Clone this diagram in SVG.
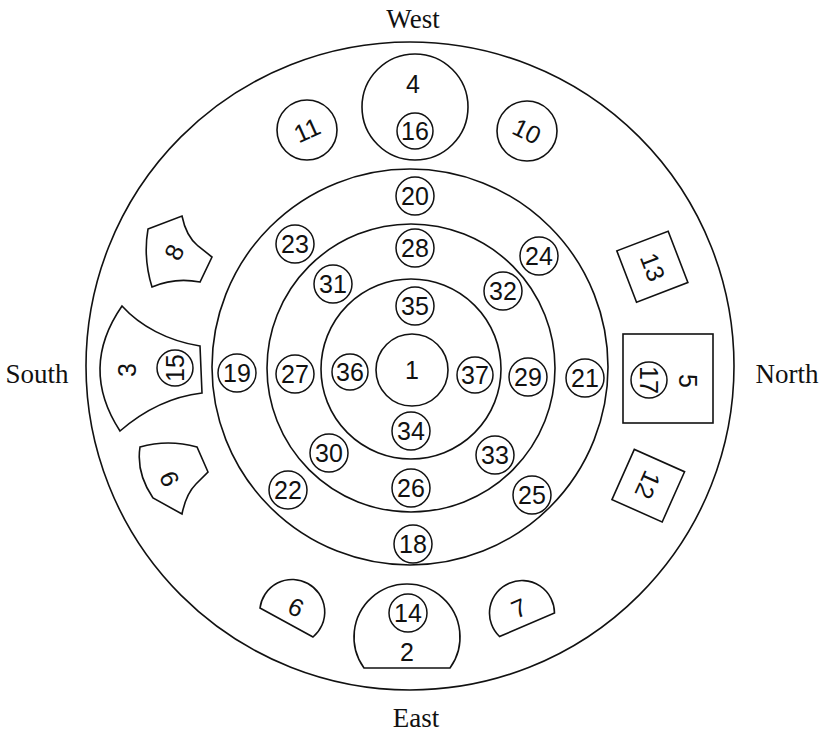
<svg xmlns="http://www.w3.org/2000/svg" width="821" height="732" viewBox="0 0 821 732">
<style>
.ln{fill:none;stroke:#111;stroke-width:1.6}
.sh{fill:#fff;stroke:#111;stroke-width:1.6}
.sm{fill:#fff;stroke:#111;stroke-width:1.5}
.num{font-family:"Liberation Sans",Arial,sans-serif;font-size:25px;fill:#111;text-anchor:middle;dominant-baseline:central}
.lab{font-family:"Liberation Serif","Times New Roman",serif;font-size:27px;fill:#111;text-anchor:middle}
</style>
<rect width="821" height="732" fill="#fff"/>
<g id="labels">
<text class="lab" x="413" y="28">West</text>
<text class="lab" x="416" y="727">East</text>
<text class="lab" x="37" y="383">South</text>
<text class="lab" x="787" y="383">North</text>
</g>
<g id="rings">
<circle class="ln" cx="410" cy="366" r="324" stroke-width="2"/>
<circle class="ln" cx="410" cy="367" r="198"/>
<circle class="ln" cx="411" cy="368" r="144"/>
<circle class="ln" cx="411" cy="369" r="90"/>
</g>
<g id="connectors"/>
<g id="n1"><circle class="sh" cx="412" cy="370" r="36"/><text class="num" x="412" y="370">1</text></g>
<g id="n2"><path class="sh" d="M364,668 A53,53 0 1,1 450,668 Z"/><text class="num" x="407" y="652">2</text></g>
<g id="n14"><circle class="sm" cx="408" cy="613" r="19"/><text class="num" x="408" y="613">14</text></g>
<g id="n3"><path class="sh" d="M122,306 C140,326 168,341 200,346 L202,393 C168,397 142,412 120,431 Q79,368 122,306 Z"/><text class="num" x="127" y="370" transform="rotate(-90 127 370)">3</text></g>
<g id="n15"><circle class="sm" cx="175" cy="368" r="18"/><text class="num" x="175" y="368" transform="rotate(-90 175 368)">15</text></g>
<g id="n4"><circle class="sh" cx="415" cy="107" r="53"/><text class="num" x="413" y="84">4</text></g>
<g id="n16"><circle class="sm" cx="415" cy="131" r="18"/><text class="num" x="415" y="131">16</text></g>
<g id="n5"><rect class="sh" x="623" y="334" width="90" height="89"/><text class="num" x="688" y="381" transform="rotate(90 688 381)">5</text></g>
<g id="n17"><circle class="sm" cx="649" cy="380" r="18"/><text class="num" x="649" y="380" transform="rotate(90 649 380)">17</text></g>
<g id="n6"><path class="sh" d="M260,608 A32.5,32.5 0 1,1 313,637 Z"/><text class="num" x="296" y="607" transform="rotate(25 296 607)">6</text></g>
<g id="n7"><path class="sh" d="M499.5,636.5 A32.5,32.5 0 1,1 554.5,613 Z"/><text class="num" x="519" y="608" transform="rotate(-24 519 608)">7</text></g>
<g id="n8"><path class="sh" d="M148,229 L182,216 Q186,236 198,246 L212,257 L200,282 Q175,277 152,287 Q143,258 148,229 Z"/><text class="num" x="174" y="252" transform="rotate(-64 174 252)">8</text></g>
<g id="n9"><path class="sh" d="M140,447 Q168,439 197,447 L208,472 L196,484 Q186,494 182,514 L153,498 Q136,473 140,447 Z"/><text class="num" x="169" y="479" transform="rotate(-114 169 479)">9</text></g>
<g id="n10"><circle class="sh" cx="527" cy="131" r="30"/><text class="num" x="527" y="131" transform="rotate(26 527 131)">10</text></g>
<g id="n11"><circle class="sh" cx="307" cy="130" r="30"/><text class="num" x="307" y="130" transform="rotate(-24 307 130)">11</text></g>
<g id="n12"><rect class="sh" x="621" y="458" width="55" height="55" transform="rotate(24 648 485)"/><text class="num" x="648" y="485" transform="rotate(114 648 485)">12</text></g>
<g id="n13"><rect class="sh" x="625" y="239" width="55" height="55" transform="rotate(-21 653 267)"/><text class="num" x="653" y="267" transform="rotate(69 653 267)">13</text></g>
<g id="n18"><circle class="sm" cx="413" cy="544" r="19"/><text class="num" x="413" y="544">18</text></g>
<g id="n19"><circle class="sm" cx="237" cy="373" r="19"/><text class="num" x="237" y="373">19</text></g>
<g id="n20"><circle class="sm" cx="415" cy="196" r="19"/><text class="num" x="415" y="196">20</text></g>
<g id="n21"><circle class="sm" cx="585" cy="378" r="19"/><text class="num" x="585" y="378">21</text></g>
<g id="n22"><circle class="sm" cx="288" cy="490" r="19"/><text class="num" x="288" y="490">22</text></g>
<g id="n23"><circle class="sm" cx="295" cy="244" r="19"/><text class="num" x="295" y="244">23</text></g>
<g id="n24"><circle class="sm" cx="539" cy="256" r="19"/><text class="num" x="539" y="256">24</text></g>
<g id="n25"><circle class="sm" cx="532" cy="495" r="19"/><text class="num" x="532" y="495">25</text></g>
<g id="n26"><circle class="sm" cx="411" cy="488" r="19"/><text class="num" x="411" y="488">26</text></g>
<g id="n27"><circle class="sm" cx="295" cy="374" r="19"/><text class="num" x="295" y="374">27</text></g>
<g id="n28"><circle class="sm" cx="415" cy="248" r="19"/><text class="num" x="415" y="248">28</text></g>
<g id="n29"><circle class="sm" cx="528" cy="377" r="19"/><text class="num" x="528" y="377">29</text></g>
<g id="n30"><circle class="sm" cx="329" cy="453" r="19"/><text class="num" x="329" y="453">30</text></g>
<g id="n31"><circle class="sm" cx="333" cy="284" r="19"/><text class="num" x="333" y="284">31</text></g>
<g id="n32"><circle class="sm" cx="503" cy="291" r="19"/><text class="num" x="503" y="291">32</text></g>
<g id="n33"><circle class="sm" cx="495" cy="455" r="19"/><text class="num" x="495" y="455">33</text></g>
<g id="n34"><circle class="sm" cx="411" cy="431" r="19"/><text class="num" x="411" y="431">34</text></g>
<g id="n35"><circle class="sm" cx="415" cy="306" r="19"/><text class="num" x="415" y="306">35</text></g>
<g id="n36"><circle class="sm" cx="350" cy="372" r="18"/><text class="num" x="350" y="372">36</text></g>
<g id="n37"><circle class="sm" cx="475" cy="375" r="18"/><text class="num" x="475" y="375">37</text></g>
</svg>
